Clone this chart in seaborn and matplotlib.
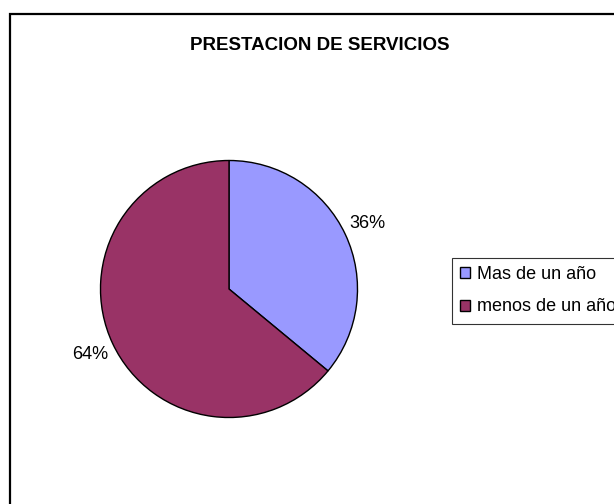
import matplotlib
matplotlib.use("Agg")
import matplotlib.pyplot as plt
import seaborn as sns
from matplotlib.patches import Rectangle

sns.set_style("white")
plt.rcParams['font.family'] = ['Liberation Sans', 'DejaVu Sans']
plt.rcParams['text.color'] = 'black'

# Data
categories = ["Mas de un año", "menos de un año"]
values = [36, 64]
colors = ["#9999FF", "#993366"]
title = "PRESTACION DE SERVICIOS"

W, H = 614, 504
fig = plt.figure(figsize=(W / 100, H / 100), dpi=100)

# outer chart border (cropped at right and bottom like the original)
fig.patches.append(Rectangle((10 / W, -0.1), 1.2, 1 - 14 / H + 0.1,
                             transform=fig.transFigure, fill=False,
                             edgecolor="black", linewidth=1.6))

# pie placed so its centre is at ~(229, 289) px, radius ~128 px
cx, cy, r = 229, 289, 128.5
ax = fig.add_axes([(cx - r) / W, (H - cy - r) / H, 2 * r / W, 2 * r / H])
wedges, texts = ax.pie(values, colors=colors, startangle=90, counterclock=False,
                       labels=[f"{v}%" for v in values], labeldistance=1.19,
                       wedgeprops=dict(edgecolor="black", linewidth=1.0),
                       textprops=dict(fontsize=13, color="black"))
for t in texts:
    t.set_ha("center")
ax.set_xlim(-1, 1)
ax.set_ylim(-1, 1)
ax.set_aspect("equal")

fig.text(320 / W, 1 - 45 / H, title, ha="center", va="center",
         fontsize=13.5, fontweight="bold", color="black")

leg = fig.legend(wedges, categories, loc="upper left",
                 bbox_to_anchor=(452 / W, 1 - 258 / H),
                 fontsize=13, frameon=True, fancybox=False,
                 edgecolor="black", handlelength=0.55, handleheight=0.55,
                 handletextpad=0.4, borderpad=0.45, labelspacing=0.85,
                 borderaxespad=0)
leg.get_frame().set_linewidth(0.8)
for t in leg.get_texts():
    t.set_color("black")

fig.savefig("out.png", dpi=100)
